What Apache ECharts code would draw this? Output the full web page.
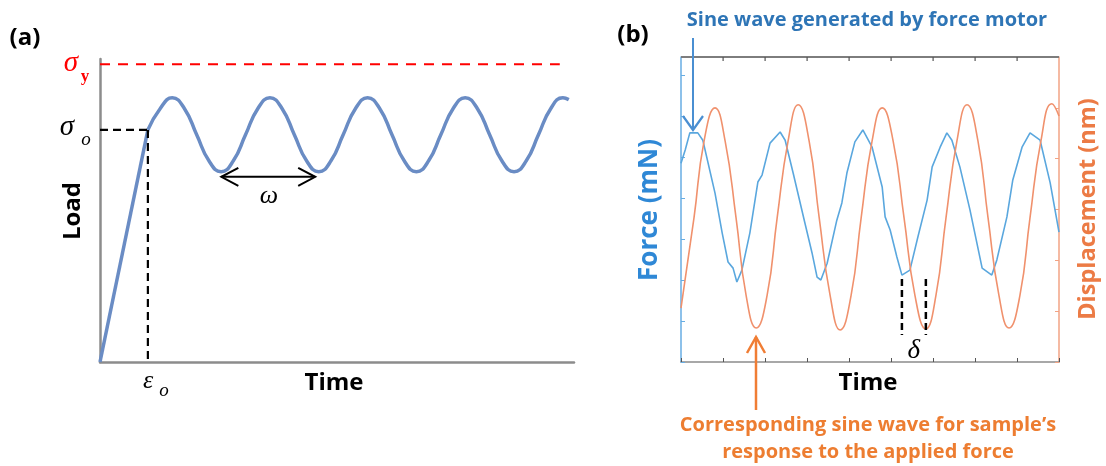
<!DOCTYPE html>
<html><head><meta charset="utf-8">
<script src="https://cdn.jsdelivr.net/npm/echarts@6/dist/echarts.min.js"></script>
<style>html,body{margin:0;padding:0;background:#fff}#c{width:1106px;height:466px}</style>
</head><body><div id="c"></div>
<script>
// ---------- Panel (a): load vs time ----------
const rampX = [0, 10.1];
const rampY = [0, 76.6];
const waveX = [10.1,12.68,15.25,17.83,20.40,22.98,25.55,28.13,30.70,33.28,35.85,38.43,41.00,43.58,46.15,48.73,51.30,53.88,56.45,59.03,61.60,64.18,66.75,69.33,71.90,74.48,77.05,79.63,82.20,84.78,87.35,89.93,92.50,95.08,97.65,98.9];
const waveY = [76.6,83.6,87.2,83.6,75.0,66.4,62.8,66.4,75.0,83.6,87.2,83.6,75.0,66.4,62.8,66.4,75.0,83.6,87.2,83.6,75.0,66.4,62.8,66.4,75.0,83.6,87.2,83.6,75.0,66.4,62.8,66.4,75.0,83.6,87.2,86.6];
const sigmaYLevel = 98.3;
const sigmaOLevel = 76.6;
const epsOTime = 10.1;
const omegaFrom = 25.6, omegaTo = 45.4, omegaLevel = 61.1;

// ---------- Panel (b): force & displacement vs time ----------
const timeTicksB = [0, 1, 2, 3, 4, 5, 6, 7, 8, 9];
const forceX = [0.00,0.10,0.21,0.40,0.52,0.81,0.98,1.12,1.24,1.33,1.45,1.64,1.83,1.93,2.12,2.36,2.48,2.67,2.95,3.12,3.24,3.33,3.48,3.71,3.83,3.95,4.14,4.33,4.55,4.79,4.86,4.98,5.14,5.26,5.45,5.64,5.86,5.98,6.17,6.33,6.45,6.64,6.88,7.17,7.40,7.52,7.76,7.90,8.12,8.31,8.55,8.79,9.00];
const forceY = [4.85,5.17,5.59,5.59,5.41,4.12,3.15,2.44,2.29,1.95,2.24,3.15,4.39,4.56,5.34,5.61,5.41,4.61,3.39,2.66,2.07,2.00,2.41,3.46,3.88,4.61,5.37,5.66,5.24,4.27,3.54,3.22,2.56,2.12,2.24,3.05,3.95,4.76,5.24,5.59,5.41,4.76,3.71,2.29,2.12,2.49,3.54,4.44,5.24,5.59,5.41,4.37,3.17];
const dispX = [0.00,0.31,0.55,0.81,1.05,1.31,1.55,1.79,2.05,2.29,2.55,2.79,3.05,3.29,3.55,3.79,4.05,4.29,4.55,4.79,5.05,5.31,5.57,5.83,6.07,6.31,6.57,6.81,7.07,7.31,7.57,7.81,8.07,8.31,8.57,8.83,9.00];
const dispY = [1.06,2.84,4.35,5.00,4.35,2.84,1.31,0.67,1.31,2.84,4.35,5.06,4.35,2.84,1.31,0.63,1.31,2.84,4.35,5.00,4.35,2.84,1.31,0.65,1.31,2.84,4.35,5.06,4.35,2.84,1.31,0.67,1.31,2.84,4.35,5.08,4.84];
const deltaFrom = 5.26, deltaTo = 5.83;
const forceMax = 7.44;

const pairs = (xs, ys) => xs.map((x, i) => [x, ys[i]]);
const gray = '#8c8c8c';

const option = {
  animation: false,
  backgroundColor: '#ffffff',
  grid: [
    { left: 100, top: 59, width: 474, height: 303 },
    { left: 681, top: 57, width: 378, height: 305 }
  ],
  xAxis: [
    { gridIndex: 0, type: 'value', min: 0, max: 100, axisLine: { onZero: false, lineStyle: { color: gray, width: 2.5 } }, axisTick: { show: false }, axisLabel: { show: false }, splitLine: { show: false } },
    { gridIndex: 1, type: 'value', min: 0, max: 9, interval: 1, position: 'bottom', axisLine: { onZero: false, lineStyle: { color: gray, width: 1.5 } }, axisTick: { inside: true, length: 4, lineStyle: { color: '#555' } }, axisLabel: { show: false }, splitLine: { show: false } }
  ],
  yAxis: [
    { gridIndex: 0, type: 'value', min: 0, max: 100, axisLine: { show: true, onZero: false, lineStyle: { color: gray, width: 2.5 } }, axisTick: { show: false }, axisLabel: { show: false }, splitLine: { show: false } },
    { gridIndex: 1, type: 'value', min: 0, max: forceMax, interval: 1, position: 'left', axisLine: { show: true, onZero: false, lineStyle: { color: '#67ade3', width: 1.5 } }, axisTick: { show: true, inside: true, length: 4, lineStyle: { color: '#67ade3' } }, axisLabel: { show: false }, splitLine: { show: false } },
    { gridIndex: 1, type: 'value', min: 0, max: 6, interval: 1, position: 'right', axisLine: { show: true, onZero: false, lineStyle: { color: '#f2a384', width: 1.5 } }, axisTick: { show: true, inside: true, length: 4, lineStyle: { color: '#f2a384' } }, axisLabel: { show: false }, splitLine: { show: false } }
  ],
  series: [
    { type: 'line', xAxisIndex: 0, yAxisIndex: 0, data: pairs(rampX, rampY), showSymbol: false, lineStyle: { color: '#6a8cc4', width: 3.5 } },
    { type: 'line', xAxisIndex: 0, yAxisIndex: 0, data: pairs(waveX, waveY), smooth: 0.5, showSymbol: false, lineStyle: { color: '#6a8cc4', width: 3.5 } },
    { type: 'line', xAxisIndex: 1, yAxisIndex: 1, data: pairs(forceX, forceY), showSymbol: false, lineStyle: { color: '#5aa7de', width: 1.6 } },
    { type: 'line', xAxisIndex: 1, yAxisIndex: 2, data: pairs(dispX, dispY), smooth: 0.5, showSymbol: false, lineStyle: { color: '#f0916d', width: 1.6 } }
  ]
};

const chart = echarts.init(document.getElementById('c'));
chart.setOption(option);

const pa = (x, y) => chart.convertToPixel({ seriesIndex: 1 }, [x, y]);
const pb = (x, y) => chart.convertToPixel({ seriesIndex: 2 }, [x, y]);

function txt(x, y, text, font, fill, rot) {
  return { type: 'text', x: x, y: y, rotation: rot || 0, z: 100,
    style: { text: text, font: font, fill: fill, align: 'center', verticalAlign: 'middle', textAlign: 'center', textVerticalAlign: 'middle' } };
}
function seg(x1, y1, x2, y2, color, width, dash) {
  return { type: 'line', z: 100, shape: { x1: x1, y1: y1, x2: x2, y2: y2 },
    style: { stroke: color, lineWidth: width, lineDash: dash || null } };
}
function poly(pts, color, width) {
  return { type: 'polyline', z: 100, shape: { points: pts }, style: { stroke: color, lineWidth: width, fill: null } };
}

const o0 = pa(0, 0);
const sy = pa(97, sigmaYLevel);
const so = pa(epsOTime, sigmaOLevel);
const om1 = pa(omegaFrom, omegaLevel), om2 = pa(omegaTo, omegaLevel);
const d1 = pb(deltaFrom, 0), d2 = pb(deltaTo, 0);
const bl = pb(0, 0), br = pb(9, 0);
const topY = bl[1] - 305;

const bold = 'bold 24px "Open Sans"';
const serifI = 'italic 29px "Liberation Serif"';
const blueArrowX = 693, orangeArrowX = 756;

const graphics = [
  txt(25, 38, '(a)', bold, '#000'),
  txt(633, 35, '(b)', bold, '#000'),
  // top frame of panel (b) with inward ticks
  { type: 'rect', z: 90, shape: { x: bl[0], y: topY - 1, width: br[0] - bl[0], height: 2 }, style: { fill: '#7d7d7d' } },
  ...timeTicksB.slice(1, -1).map(t => { const p = pb(t, 0); return { type: 'rect', z: 90, shape: { x: p[0] - 0.5, y: topY, width: 1.2, height: 4 }, style: { fill: '#555' } }; }),
  seg(o0[0], sy[1], sy[0], sy[1], '#ff0000', 2, [10, 8]),
  seg(o0[0], so[1], so[0], so[1], '#000', 2.2, [8, 5]),
  seg(so[0], so[1], so[0], o0[1], '#000', 2.2, [8, 5]),
  txt(71, 63, 'σ', serifI, '#ff0000'),
  txt(85, 77, 'y', 'bold 17px "Liberation Serif"', '#ff0000'),
  txt(67, 127, 'σ', serifI, '#000'),
  txt(86, 140, 'o', 'italic 19px "Liberation Serif"', '#000'),
  txt(148, 381, 'ε', 'italic 26px "Liberation Serif"', '#000'),
  txt(164, 391, 'o', 'italic 19px "Liberation Serif"', '#000'),
  seg(om1[0], om1[1], om2[0], om2[1], '#000', 2),
  poly([[om1[0] + 17, om1[1] - 9], [om1[0], om1[1]], [om1[0] + 17, om1[1] + 9]], '#000', 2),
  poly([[om2[0] - 17, om2[1] - 9], [om2[0], om2[1]], [om2[0] - 17, om2[1] + 9]], '#000', 2),
  txt(269, 196, 'ω', 'italic 26px "Liberation Serif"', '#000'),
  txt(73, 211, 'Load', bold, '#000', Math.PI / 2),
  txt(334, 383, 'Time', bold, '#000'),
  txt(867, 20, 'Sine wave generated by force motor', 'bold 20px "Open Sans"', '#2e75b6'),
  txt(650, 210, 'Force (mN)', 'bold 26px "Open Sans"', '#2f88d6', Math.PI / 2),
  txt(1088, 209, 'Displacement (nm)', 'bold 23.5px "Open Sans"', '#ec7b45', Math.PI / 2),
  txt(868, 383, 'Time', bold, '#000'),
  txt(868, 425, 'Corresponding sine wave for sample’s', 'bold 20px "Open Sans"', '#ed7d31'),
  txt(868, 452, 'response to the applied force', 'bold 20px "Open Sans"', '#ed7d31'),
  seg(blueArrowX, 38, blueArrowX, 129, '#4a8fd2', 2),
  poly([[blueArrowX - 10, 116], [blueArrowX, 130], [blueArrowX + 10, 116]], '#4a8fd2', 2.2),
  seg(orangeArrowX, 337, orangeArrowX, 410, '#f07d34', 2.5),
  poly([[orangeArrowX - 9, 353], [orangeArrowX, 337], [orangeArrowX + 9, 353]], '#f07d34', 2.5),
  seg(d1[0], 279, d1[0], 335, '#000', 2.5, [7, 4]),
  seg(d2[0], 279, d2[0], 335, '#000', 2.5, [7, 4]),
  txt((d1[0] + d2[0]) / 2, 351, 'δ', 'italic 27px "Liberation Serif"', '#000')
];

chart.setOption({ graphic: { elements: graphics } });
</script>
</body></html>
